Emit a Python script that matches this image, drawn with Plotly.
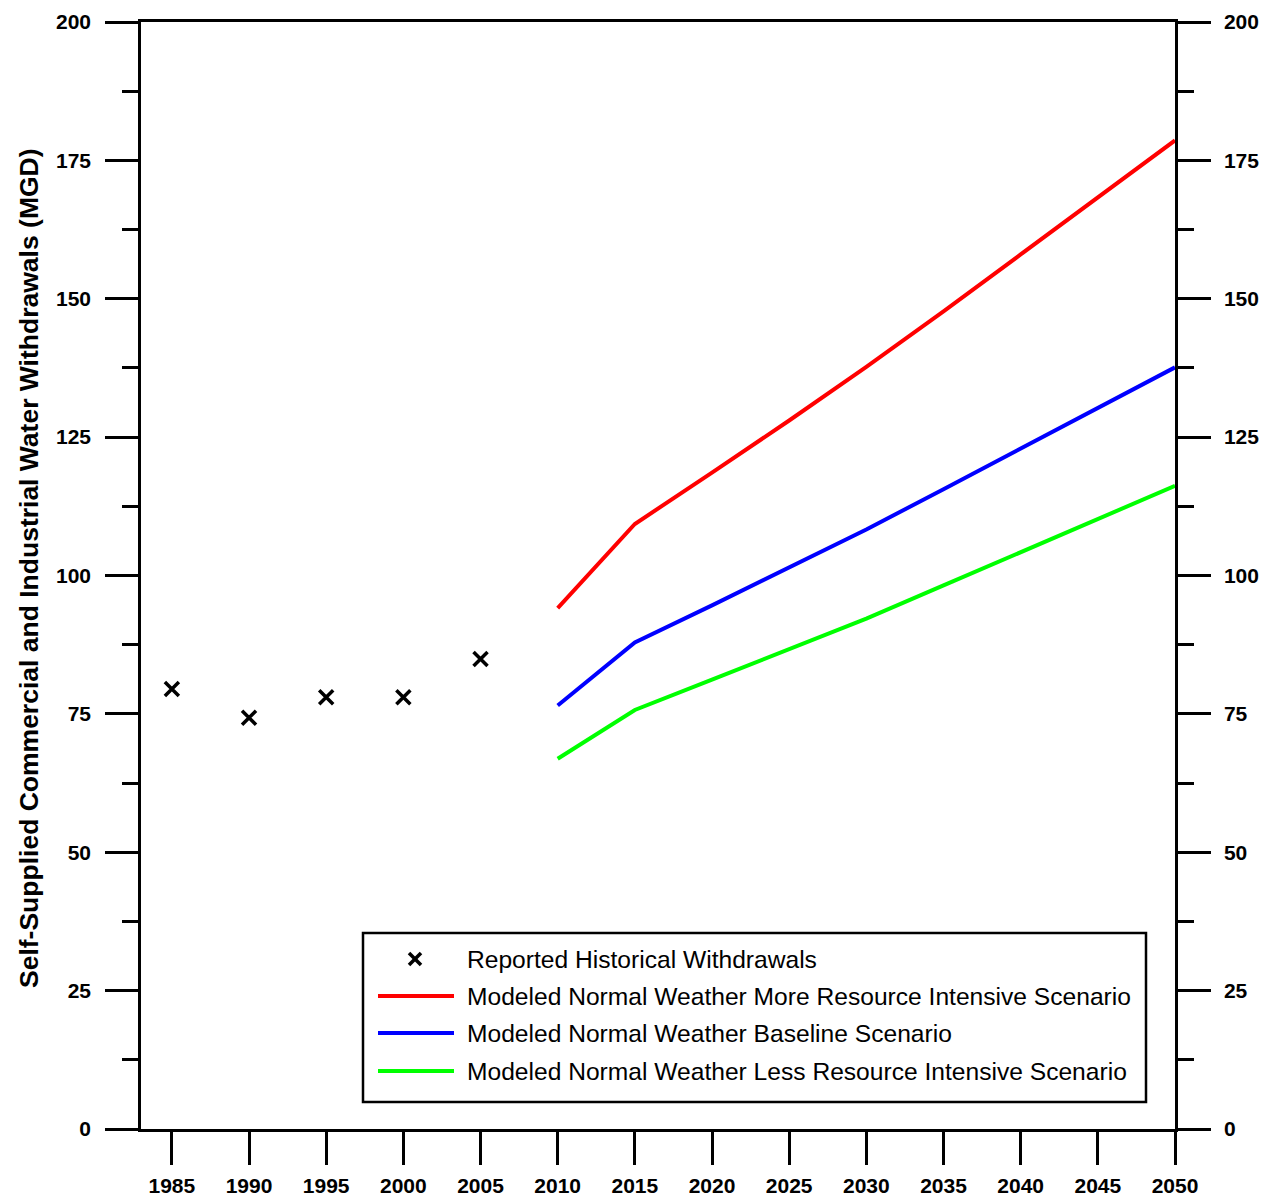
import plotly.graph_objects as go

# ---------------- data ----------------
hist_years = [1985, 1990, 1995, 2000, 2005]
hist_values = [79.5, 74.3, 78.0, 78.0, 84.9]

model_years = [2010, 2015, 2020, 2025, 2030, 2035, 2040, 2045, 2050]
more_intensive = [94.1, 109.3, 118.6, 128.0, 137.7, 147.7, 158.0, 168.3, 178.6]
baseline = [76.5, 87.9, 94.6, 101.4, 108.3, 115.6, 122.9, 130.3, 137.6]
less_intensive = [66.9, 75.7, 81.2, 86.7, 92.2, 98.2, 104.2, 110.2, 116.2]

x_ticks = list(range(1985, 2051, 5))
y_ticks = [0, 25, 50, 75, 100, 125, 150, 175, 200]

legend_labels = [
    "Reported Historical Withdrawals",
    "Modeled Normal Weather More Resource Intensive Scenario",
    "Modeled Normal Weather Baseline Scenario",
    "Modeled Normal Weather Less Resource Intensive Scenario",
]
line_colors = ["#ff0000", "#0000ff", "#00ff00"]

# ---------------- layout geometry ----------------
W, H = 1264, 1198
L, R, T, B = 141, 1175, 22, 1129  # plot area in pixels


def px(xp):
    return (xp - L) / (R - L)


def py(yp):
    return (B - yp) / (B - T)


FONT = "Arial, Liberation Sans, sans-serif"

fig = go.Figure()

fig.add_trace(go.Scatter(
    x=hist_years, y=hist_values, mode="markers",
    marker=dict(symbol="x-thin", size=14, color="black",
                line=dict(width=3.5, color="black")),
    showlegend=False, hoverinfo="skip"))

for vals, col in zip([more_intensive, baseline, less_intensive], line_colors):
    fig.add_trace(go.Scatter(
        x=model_years, y=vals, mode="lines",
        line=dict(color=col, width=4),
        showlegend=False))

# invisible trace for the right-hand axis
fig.add_trace(go.Scatter(x=[2050], y=[0], yaxis="y2", mode="markers",
                         marker=dict(opacity=0), showlegend=False,
                         hoverinfo="skip"))

axis_common = dict(
    showline=True, linecolor="black", linewidth=2.5,
    ticks="outside", ticklen=33, tickwidth=2.5, tickcolor="black",
    showgrid=False, zeroline=False, automargin=False,
    tickfont=dict(family=FONT, size=21, color="black", weight="bold"),
)

fig.update_layout(
    width=W, height=H,
    margin=dict(l=L, r=W - R, t=T, b=H - B),
    paper_bgcolor="white", plot_bgcolor="white",
    showlegend=False,
    xaxis=dict(
        range=[1983, 2050], tickvals=x_ticks,
        ticktext=[str(v) for v in x_ticks],
        mirror=True, ticklabelstandoff=3, **axis_common),
    yaxis=dict(
        range=[0, 200], tickvals=y_ticks,
        minor=dict(ticks="outside", ticklen=16, tickwidth=2.5,
                   tickcolor="black", dtick=12.5, tick0=0),
        ticklabelstandoff=10, **axis_common),
    yaxis2=dict(
        range=[0, 200], tickvals=y_ticks, overlaying="y", side="right",
        anchor="x",
        minor=dict(ticks="outside", ticklen=16, tickwidth=2.5,
                   tickcolor="black", dtick=12.5, tick0=0),
        ticklabelstandoff=9, **axis_common),
)

# y-axis title
fig.add_annotation(
    text="Self-Supplied Commercial and Industrial Water Withdrawals (MGD)",
    xref="paper", yref="paper", x=px(29), y=py(568),
    xanchor="center", yanchor="middle", textangle=-90, showarrow=False,
    font=dict(family=FONT, size=26.5, color="black", weight="bold"))

# ---------------- manual legend ----------------
fig.add_shape(type="rect", xref="paper", yref="paper",
              x0=px(363), x1=px(1146), y0=py(1102), y1=py(933),
              line=dict(color="black", width=2.5), fillcolor="white",
              layer="above")

row_y = [959, 996, 1033, 1071]
# cross marker
mx, my, ms = 415, row_y[0], 6
for dy in (-ms, ms):
    fig.add_shape(type="line", xref="paper", yref="paper",
                  x0=px(mx - ms), x1=px(mx + ms), y0=py(my - dy), y1=py(my + dy),
                  line=dict(color="black", width=3.5), layer="above")
for yy, col in zip(row_y[1:], line_colors):
    fig.add_shape(type="line", xref="paper", yref="paper",
                  x0=px(378), x1=px(454), y0=py(yy), y1=py(yy),
                  line=dict(color=col, width=4), layer="above")
for yy, lab in zip(row_y, legend_labels):
    fig.add_annotation(text=lab, xref="paper", yref="paper",
                       x=px(465), y=py(yy), xanchor="left", yanchor="middle",
                       showarrow=False,
                       font=dict(family=FONT, size=24.6, color="black"))

fig.write_html("out.html",
               config={"displayModeBar": False},
               post_script="document.body.style.margin='0px';"
                           "document.body.style.overflow='hidden';")
